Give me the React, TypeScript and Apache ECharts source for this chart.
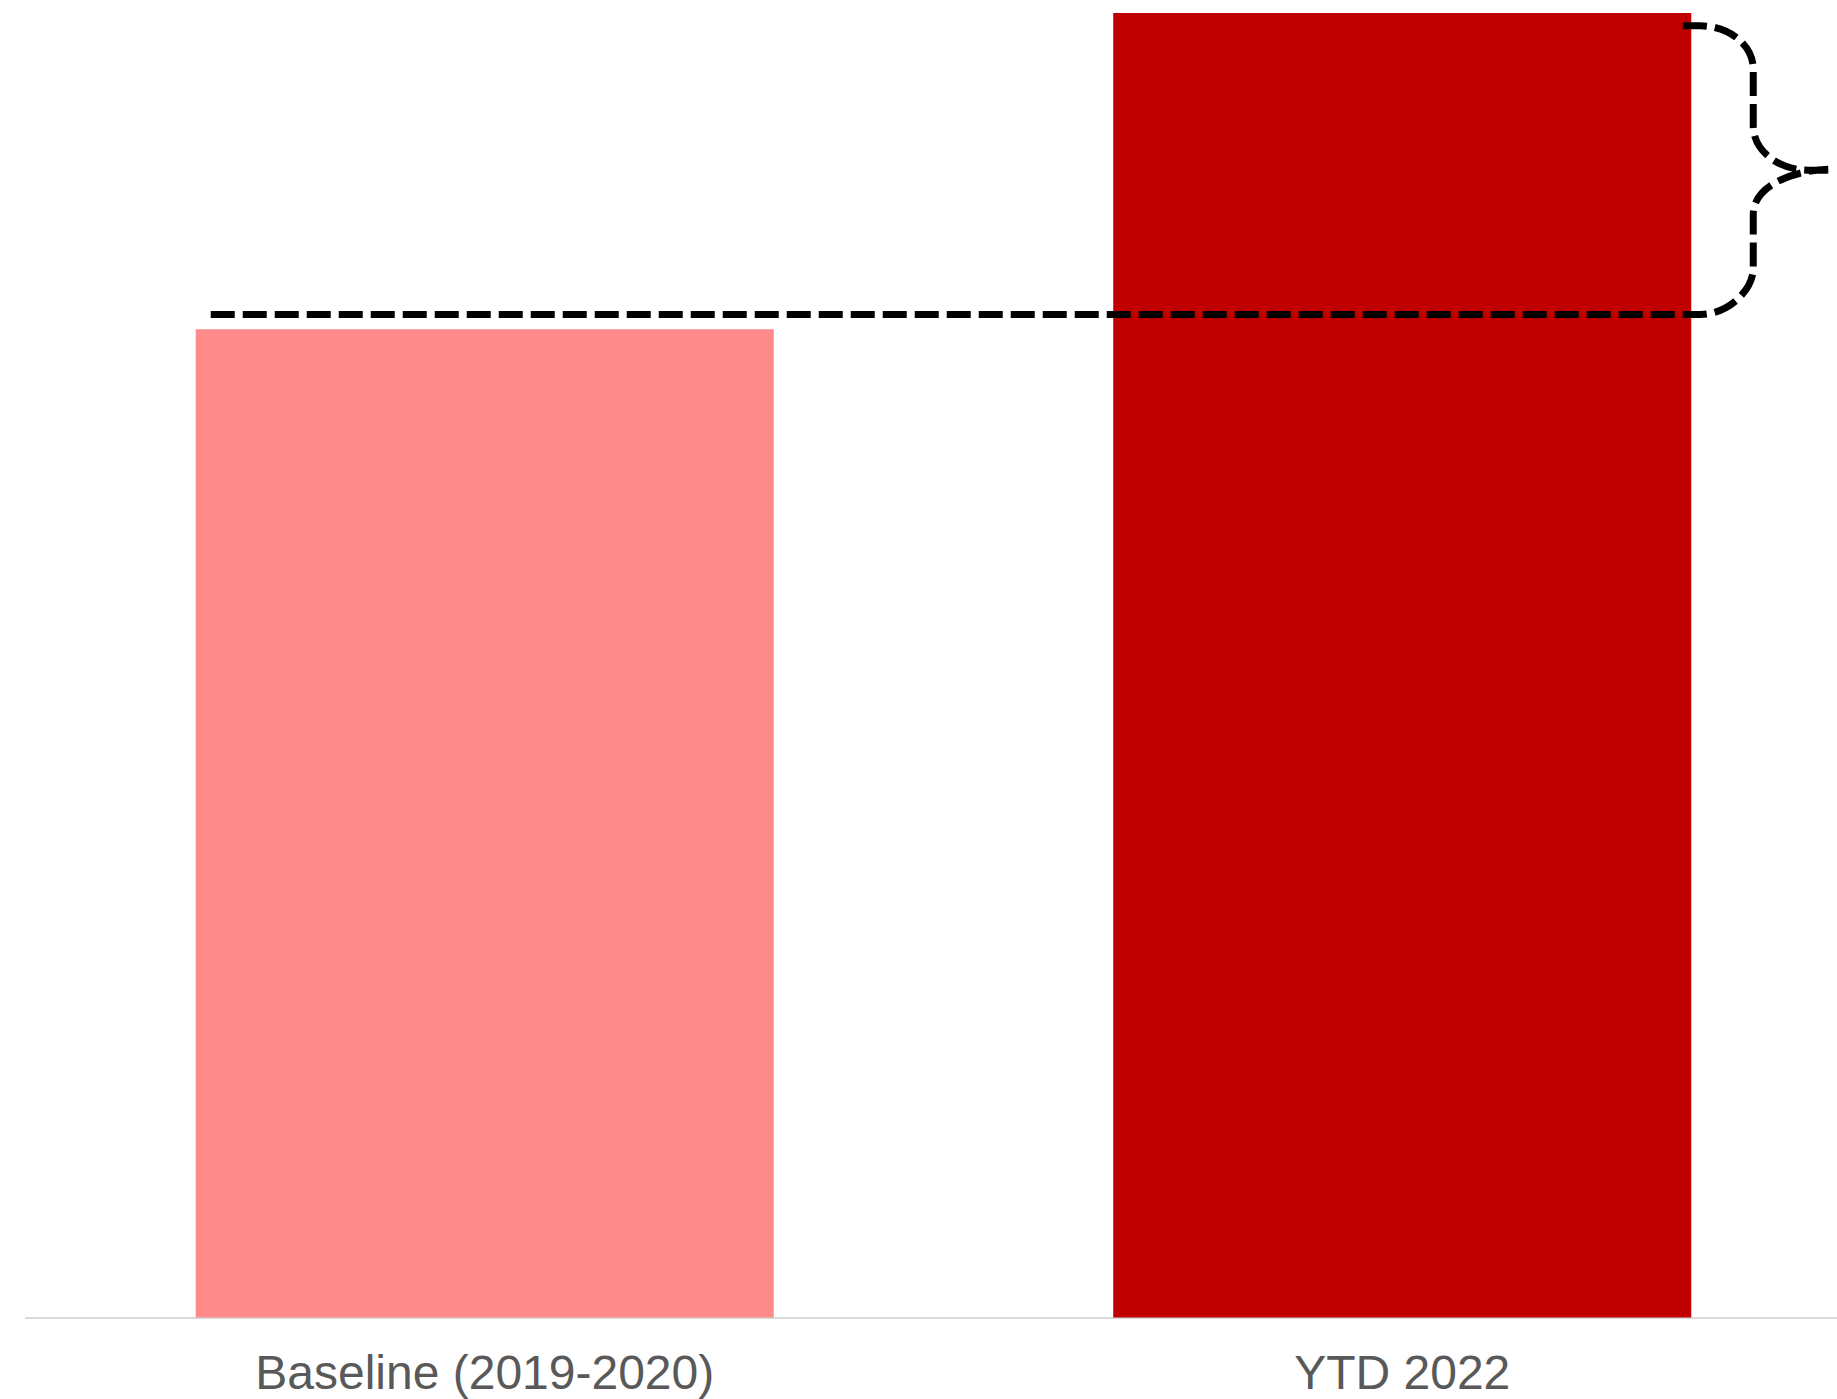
import React, { useEffect, useRef } from "react";
import * as echarts from "echarts";

const categories = ["Baseline (2019-2020)", "YTD 2022"];
const values = [100, 132];
const barColors = ["#FF8A8A", "#C00000"];
// annotation levels: dashed reference line level, brace top level
const annotationLevels = [101.5, 130.7];

export default function App() {
  const ref = useRef<HTMLDivElement>(null);
  useEffect(() => {
    if (!ref.current) return;
    const chart = echarts.init(ref.current, null, { renderer: "svg" });
    const barWidthRatio = 0.63;
    chart.setOption({
      animation: false,
      backgroundColor: "#ffffff",
      grid: { left: 26, right: 0, top: 13, bottom: 81.5, containLabel: false },
      xAxis: {
        type: "category",
        data: categories,
        axisTick: { show: false },
        axisLine: { lineStyle: { color: "#D9D9D9", width: 2 } },
        axisLabel: {
          color: "#595959",
          fontSize: 48,
          fontFamily: "Liberation Sans, Arial, sans-serif",
          margin: 31,
        },
      },
      yAxis: {
        type: "value",
        min: 0,
        max: 132,
        show: false,
        splitLine: { show: false },
      },
      series: [
        {
          type: "bar",
          barWidth: (barWidthRatio * 100).toFixed(0) + "%",
          data: values.map((v, i) => ({ value: v, itemStyle: { color: barColors[i] } })),
          z: 2,
        },
        {
          type: "custom",
          clip: false,
          z: 5,
          data: [[0, annotationLevels[0], annotationLevels[1]]],
          encode: { x: 0, y: 1 },
          renderItem: (params: any, api: any) => {
            const lvl = api.value(1);
            const top = api.value(2);
            const p0 = api.coord([0, lvl]);
            const p1 = api.coord([1, top]);
            const band = api.size([1, 0])[0];
            const barW = band * barWidthRatio;
            const xStart = p0[0] - barW / 2 + 15;
            const yB = p0[1];
            const yT = p1[1];
            const yM = (yB + yT) / 2;
            const X0 = p1[0] + barW / 2;
            const xV = X0 + 62;
            const xTip = X0 + 137;
            const k = 0.55;
            const rx = 53;
            const ryB = 46;
            const ryM = 44;
            const rxM = 55;
            const ryT = 43;
            const d = [
              `M ${xStart} ${yB}`,
              `L ${xV - rx} ${yB}`,
              `C ${xV - rx + k * rx} ${yB} ${xV} ${yB - k * ryB} ${xV} ${yB - ryB}`,
              `L ${xV} ${yM + ryM}`,
              `C ${xV} ${yM + ryM - 0.6 * ryM} ${xV + 35} ${yM + 1} ${xTip} ${yM - 1}`,
              `M ${xTip} ${yM}`,
              `L ${xV + rxM} ${yM}`,
              `C ${xV + rxM - k * rxM} ${yM} ${xV} ${yM - ryM + k * ryM} ${xV} ${yM - ryM}`,
              `L ${xV} ${yT + ryT}`,
              `C ${xV} ${yT + ryT - k * ryT} ${xV - rx + k * rx} ${yT} ${xV - rx} ${yT}`,
              `L ${X0 - 13} ${yT}`,
            ].join(" ");
            return {
              type: "path",
              shape: { pathData: d, layout: "center" },
              style: {
                fill: "none",
                stroke: "#000000",
                lineWidth: 7,
                lineDash: [24, 8],
              },
            };
          },
        },
      ],
    });
    return () => chart.dispose();
  }, []);
  return (
    <div style={{ position: "absolute", left: 0, top: 0, width: 1837, height: 1399, overflow: "hidden" }}>
      <div ref={ref} style={{ width: 1861, height: 1399 }} />
    </div>
  );
}
